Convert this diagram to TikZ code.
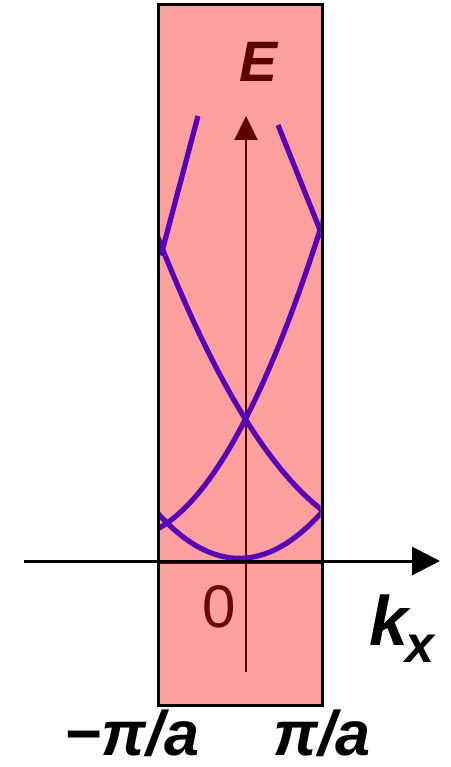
\documentclass[tikz,border=0pt]{standalone}
\usepackage{fontspec}
\setmainfont{Liberation Sans}
\usetikzlibrary{arrows.meta}
\definecolor{zonepink}{RGB}{255,160,160}
\definecolor{bandpurple}{RGB}{88,0,182}
\definecolor{axismaroon}{RGB}{92,0,0}
\definecolor{zeromaroon}{RGB}{110,6,0}
\begin{document}
\begin{tikzpicture}[x=1pt,y=-1pt,
  zonebox/.style={fill=zonepink,draw=none},
  zoneedge/.style={draw=black,line width=3pt},
  band/.style={draw=bandpurple,line width=5.2pt,line join=round},
  kaxis/.style={draw=black,line width=3pt,-{Triangle[length=28pt,width=28pt]}},
  eaxis/.style={draw=axismaroon,line width=2.2pt,-{Triangle[length=24pt,width=23pt]}},
  biglabel/.style={inner sep=0pt,font=\fontsize{63}{63}\selectfont\bfseries\itshape}]
\useasboundingbox (0,0) rectangle (450,767);

% Brillouin zone
\coordinate (zoneA) at (158,5);
\coordinate (zoneB) at (322,705);
\fill[zonebox] (zoneA) rectangle (zoneB);

% vertical E axis
\coordinate (ebot) at (246,672);
\coordinate (etop) at (246,116);
\draw[eaxis] (ebot) -- (etop);

% bands
\begin{scope}
  \clip (159.5,5) rectangle (320.5,705);
  \draw[band] plot[domain=150:330,samples=80] (\x,{558.3-0.677*((\x-239.3)/10)^2});
  \draw[band] plot[domain=150:330,samples=80] (\x,{538.7-0.791*((\x-122.5)/10)^2});
  \draw[band] plot[domain=150:330,samples=80] (\x,{537.4-0.543*((393-\x)/10)^2});
  \coordinate (tlA) at (161,255.5);
  \coordinate (tlB) at (198,116);
  \coordinate (trA) at (324,240);
  \coordinate (trB) at (278,125);
  \draw[band] (tlA) -- (tlB);
  \draw[band] (trA) -- (trB);
\end{scope}

% horizontal k axis
\coordinate (zl) at (158,563.5);
\coordinate (zr) at (322,563.5);
\draw[axismaroon,line width=1.5pt] (zl) -- (zr);
\coordinate (kstart) at (24,561);
\coordinate (kend) at (440,561);
\draw[kaxis] (kstart) -- (kend);

% zone border
\draw[zoneedge] (zoneA) rectangle (zoneB);

% labels
\node[inner sep=0pt,text=axismaroon,font=\fontsize{57}{57}\selectfont\bfseries\itshape] (E) at (259,62) {E};
\node[inner sep=0pt,text=zeromaroon,font=\fontsize{60}{60}\selectfont] (zero) at (219,607) {0};
\node[inner sep=0pt,anchor=base west,font=\fontsize{70}{70}\selectfont\bfseries\itshape] (k) at (369,645) {k};
\node[inner sep=0pt,anchor=base west,font=\fontsize{52}{52}\selectfont\bfseries\itshape] (ksub) at (405,662) {x};
\node[biglabel,anchor=base] (mpa) at (132,755) {−π/a};
\node[biglabel,anchor=base] (ppa) at (322,755) {π/a};
\end{tikzpicture}
\end{document}
